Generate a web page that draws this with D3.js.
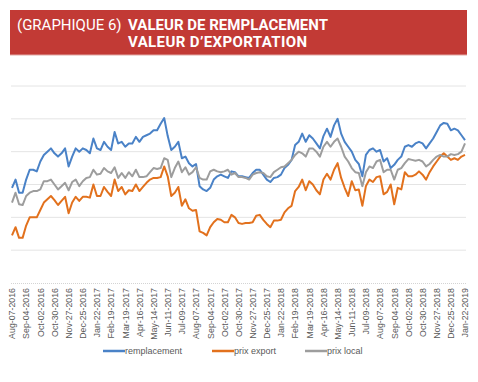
<!DOCTYPE html>
<html>
<head>
<meta charset="utf-8">
<script src="https://cdn.jsdelivr.net/npm/d3@7"></script>
<style>
  body { margin: 0; background: #fff; }
  svg { display: block; }
</style>
</head>
<body>
<div id="chart"></div>
<script>
// weekly values, Aug-07-2016 .. Jan-22-2019 (129 weeks)
var tickLabels = ["Aug-07-2016","Sep-04-2016","Oct-02-2016","Oct-30-2016","Nov-27-2016","Dec-25-2016",
  "Jan-22-2017","Feb-19-2017","Mar-19-2017","Apr-16-2017","May-14-2017","Jun-11-2017","Jul-09-2017",
  "Aug-07-2017","Sep-04-2017","Oct-02-2017","Oct-30-2017","Nov-27-2017","Dec-25-2017",
  "Jan-22-2018","Feb-19-2018","Mar-19-2018","Apr-16-2018","May-14-2018","Jun-11-2018","Jul-09-2018",
  "Aug-07-2018","Sep-04-2018","Oct-02-2018","Oct-30-2018","Nov-27-2018","Dec-25-2018","Jan-22-2019"]

var remplacement = [58,63,55,55,63,69,69,68,74,78,80,82,79,77,79,82,71,77,82,80,82,81,79,88,82,81,86,83,81,92,
  85,86,83,85,85,89,86,89,90,91,93,93,97,100.5,89.5,81,83,86,76,77,73,71,72.5,59,57,56,58,63,65,66,
  65,64,68,67.5,65,65,64.5,64,67,69,69,66,63,61.5,64,64.5,66,70,72,75,84,86,91,86,90,88,85,82,89.5,94,
  89,96,100,91,86,83,80,75,72.5,65,78,81,82,80,81,74,76,70,72,75,77,83,84,83,85,86,85,82,85,88,
  92,96,97.5,97,93,94,93,90,87]

var prixExport = [29,34,27.5,27.5,35,40,40,40,44.5,49,51,53,50.5,47.5,50,52.5,42.5,49,52.5,50,52.5,52.5,52,60,53,53,58.5,55.5,53,63,
  56,58.5,54,56.5,56,60,56,58.5,61,63,64,64,64.5,71,65,53,55,58.5,47,51,45.5,44,44.5,31.5,30.5,29,34,37,39,38.5,
  37,37,41.5,40,36.5,36,36.5,36.5,37,41,41.5,38.5,36,34,38,38,38.5,43,45.5,47,56,58.5,63,56.5,62,60,56.5,54,63,66.5,
  63,69,73,64,58,53,62,56.5,57,47,59,63,61.5,64.5,65,54,55.5,60,48,58,57,67.5,65,65,66,68,66,63,67.5,71,
  74,77,79,77,75,76,75,77,78]

var prixLocal = [49,55,48,47.5,53,55,56,56,57,62,62,63,60,57,59,61,56.5,61.5,63,59,62,64,64.5,69,66,66.5,70,68,67,70.5,
  64,67,64,67.5,65,69,64.5,64.5,65,67.5,70,69.5,70,76,75,64.5,70,74,67.5,70.5,66,67.5,70.5,64,63,63,68,69,68,67.5,
  68,69,66,67,64.5,64.5,64,63,66,67,67.5,67,65,64.5,67.5,69,70.5,71,73,75,78,80,79,77,82,82,80,77,83,86,
  83,86,88,83,77,74,70,67.5,67,59,67.5,71,70,74,75,67.5,69,69,63,69,70,73,75.5,75,74.5,75,74,71,72.5,75,
  77,78,77,77,78.5,78,78.5,80,85]

var seriesNames = ["remplacement","prix export","prix local"]
var seriesColors = ["#4a82c7","#e2711d","#9d9d9d"]
var allSeries = [remplacement, prixExport, prixLocal]

var width = 478, height = 382

var svg = d3.select("#chart").append("svg")
  .attr("width", width)
  .attr("height", height)

// title banner
svg.append("rect")
  .attr("x", 10).attr("y", 10)
  .attr("width", 457).attr("height", 45)
  .attr("fill", "#c23a35")
svg.append("line")
  .attr("x1", 10).attr("x2", 467)
  .attr("y1", 55).attr("y2", 55)
  .attr("stroke", "#e2a9a6").attr("stroke-width", 1)

svg.append("text")
  .attr("x", 17).attr("y", 30)
  .attr("fill", "#fff")
  .style("font-family", "Roboto, sans-serif")
  .style("font-size", "15px")
  .text("(GRAPHIQUE 6)")
svg.append("text")
  .attr("x", 128).attr("y", 30)
  .attr("fill", "#fff")
  .style("font-family", "Roboto, sans-serif")
  .style("font-weight", "bold")
  .style("font-size", "15px")
  .attr("textLength", 200)
  .text("VALEUR DE REMPLACEMENT")
svg.append("text")
  .attr("x", 128).attr("y", 47)
  .attr("fill", "#fff")
  .style("font-family", "Roboto, sans-serif")
  .style("font-weight", "bold")
  .style("font-size", "15px")
  .attr("textLength", 179)
  .text("VALEUR D\u2019EXPORTATION")

// scales
var x = d3.scaleLinear()
  .domain([0, remplacement.length - 1])
  .range([12, 465])
var y = d3.scaleLinear()
  .domain([0, 120])
  .range([283, 86])

// gridlines
svg.append("g")
  .selectAll("line")
  .data(y.ticks(6).filter(function(d){ return d > 0 }))
  .join("line")
  .attr("x1", 11).attr("x2", 466)
  .attr("y1", function(d){ return y(d) })
  .attr("y2", function(d){ return y(d) })
  .attr("stroke", "#e4e4e4")
  .attr("stroke-width", 1)

// x axis
var xAxis = svg.append("g")
  .attr("transform", "translate(0," + y(0) + ")")
  .call(d3.axisBottom(x)
    .tickValues(d3.range(0, remplacement.length, 4))
    .tickFormat(function(d, i){ return tickLabels[i] })
    .tickSize(0))
xAxis.select(".domain")
  .attr("stroke", "#d4d4d4")
  .attr("stroke-dasharray", "1,1")
  .attr("d", "M11,0.5H466")
xAxis.selectAll("text")
  .attr("transform", "rotate(-90)")
  .attr("x", -5).attr("y", 0).attr("dy", "0.32em")
  .attr("text-anchor", "end")
  .attr("fill", "#595959")
  .style("font-family", "Liberation Sans, sans-serif")
  .style("font-size", "8.8px")

// lines
var line = d3.line()
  .x(function(d, i){ return x(i) })
  .y(function(d){ return y(d) })

svg.append("g")
  .selectAll("path")
  .data(allSeries)
  .join("path")
  .attr("d", line)
  .attr("fill", "none")
  .attr("stroke", function(d, i){ return seriesColors[i] })
  .attr("stroke-width", 2)
  .attr("stroke-linejoin", "round")

// legend
var legendX = [103, 212, 305]
var legend = svg.append("g")
  .selectAll("g")
  .data(seriesNames)
  .join("g")
  .attr("transform", function(d, i){ return "translate(" + legendX[i] + ",351)" })
legend.append("line")
  .attr("x1", 0).attr("x2", 22)
  .attr("stroke", function(d, i){ return seriesColors[i] })
  .attr("stroke-width", 2.5)
legend.append("text")
  .attr("x", 22).attr("dy", "0.35em")
  .attr("fill", "#595959")
  .style("font-family", "Liberation Sans, sans-serif")
  .style("font-size", "9px")
  .text(function(d){ return d })
</script>
</body>
</html>
